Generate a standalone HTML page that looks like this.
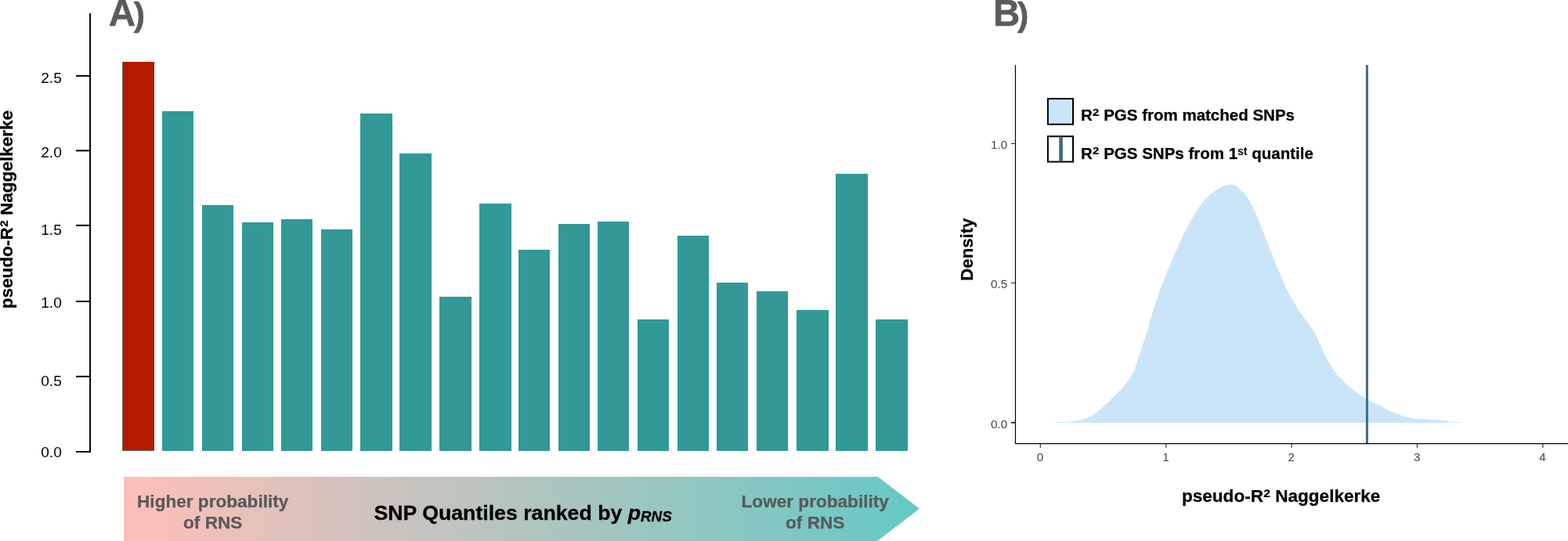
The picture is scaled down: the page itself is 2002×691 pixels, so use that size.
<!DOCTYPE html>
<html lang="en"><head><meta charset="utf-8"><title>Figure: SNP quantiles and PGS density</title>
<style>
html,body{margin:0;padding:0;background:#fff;}
body{width:2002px;height:691px;overflow:hidden;}
svg{display:block;font-family:"Liberation Sans",sans-serif;}
.b{font-weight:bold;}
.lab{font-size:19.2px;fill:#000;}
.glab{font-size:15.3px;fill:#444;}
.pan{font-size:47.5px;font-weight:bold;fill:#5b5b5b;stroke:#5b5b5b;stroke-width:0.5px;}
.ax{font-size:22.55px;font-weight:bold;fill:#000;stroke:#000;stroke-width:0.25px;}
.leg{font-size:20.5px;font-weight:bold;fill:#000;stroke:#000;stroke-width:0.25px;}
.arr{font-size:22.6px;font-weight:bold;fill:#5a5a5a;stroke:#5a5a5a;stroke-width:0.25px;text-anchor:middle;}
</style></head><body>
<svg width="2002" height="691" viewBox="0 0 2002 691">
<defs><linearGradient id="g" gradientUnits="userSpaceOnUse" x1="158" y1="0" x2="1174" y2="0"><stop offset="0" stop-color="#FFBFB9"/><stop offset="1" stop-color="#64C9C4"/></linearGradient></defs>
<rect x="0" y="0" width="2002" height="691" fill="#fff"/>
<g id="panelA">
<text class="pan" x="138.8" y="33">A<tspan x="170.8" font-size="43">)</tspan></text>
<text class="ax" transform="translate(16.3,394.3) rotate(-90)">pseudo-R<tspan font-size="27" dy="2.8" stroke-width="0">²</tspan><tspan dy="-2.8"> Naggelkerke</tspan></text>
<path d="M115.1 17 V577 H97" fill="none" stroke="#000" stroke-width="2"/>
<path d="M97 96.9 H115" stroke="#000" stroke-width="2"/>
<path d="M97 192.4 H115" stroke="#000" stroke-width="2"/>
<path d="M97 287.9 H115" stroke="#000" stroke-width="2"/>
<path d="M97 385.0 H115" stroke="#000" stroke-width="2"/>
<path d="M97 480.9 H115" stroke="#000" stroke-width="2"/>
<text class="lab" x="52.2" y="106.3">2.5</text>
<text class="lab" x="52.2" y="201.0">2.0</text>
<text class="lab" x="52.2" y="299.5">1.5</text>
<text class="lab" x="52.2" y="393.1">1.0</text>
<text class="lab" x="52.2" y="493.4">0.5</text>
<text class="lab" x="52.2" y="583.6">0.0</text>
<rect x="156" y="79" width="40" height="497" fill="#329996"/>
<rect x="156.6" y="79" width="40.4" height="496.4" fill="#B61800"/>
<rect x="207" y="142" width="40" height="434" fill="#329996"/>
<rect x="258" y="262" width="40" height="314" fill="#329996"/>
<rect x="309" y="284" width="40" height="292" fill="#329996"/>
<rect x="359" y="280" width="40" height="296" fill="#329996"/>
<rect x="410" y="293" width="40" height="283" fill="#329996"/>
<rect x="460" y="145" width="41" height="431" fill="#329996"/>
<rect x="510" y="196" width="41" height="380" fill="#329996"/>
<rect x="561" y="379" width="41" height="197" fill="#329996"/>
<rect x="612" y="260" width="41" height="316" fill="#329996"/>
<rect x="662" y="319" width="40" height="257" fill="#329996"/>
<rect x="713" y="286" width="40" height="290" fill="#329996"/>
<rect x="763" y="283" width="40" height="293" fill="#329996"/>
<rect x="814" y="408" width="40" height="168" fill="#329996"/>
<rect x="865" y="301" width="40" height="275" fill="#329996"/>
<rect x="915" y="361" width="40" height="215" fill="#329996"/>
<rect x="966" y="372" width="40" height="204" fill="#329996"/>
<rect x="1017" y="396" width="41" height="180" fill="#329996"/>
<rect x="1067" y="222" width="41" height="354" fill="#329996"/>
<rect x="1118" y="408" width="41" height="168" fill="#329996"/>
<path d="M158 609.1 H1121 L1174 649.8 L1120 691.3 H158 Z" fill="url(#g)"/>
<text class="arr" x="271.7" y="648.2">Higher probability</text>
<text class="arr" x="271.7" y="674.8">of RNS</text>
<text class="arr" x="1040.7" y="648.2">Lower probability</text>
<text class="arr" x="1040.7" y="674.8">of RNS</text>
<text class="b" x="477.4" y="664" font-size="26.7" fill="#000" stroke="#000" stroke-width="0.3">SNP Quantiles ranked by <tspan font-style="italic">p</tspan><tspan font-style="italic" font-size="18.8" dy="2">RNS</tspan></text>
</g>
<g id="panelB">
<text class="pan" x="1268.1" y="33.2">B<tspan x="1299.1" font-size="43">)</tspan></text>
<path d="M1347 539.8 L1347 538.8 L1349 538.8 L1351 538.8 L1353 538.8 L1355 538.8 L1357 538.8 L1359 538.8 L1361 538.8 L1363 538.8 L1365 538.7 L1367 538.5 L1369 538.3 L1371 538.0 L1373 537.7 L1375 537.3 L1377 536.9 L1379 536.4 L1381 535.9 L1383 535.2 L1385 534.5 L1387 533.8 L1389 533.0 L1391 532.2 L1393 531.3 L1395 530.3 L1397 529.1 L1399 527.9 L1401 526.4 L1403 524.7 L1405 522.8 L1407 520.8 L1409 518.9 L1411 517.0 L1413 515.1 L1415 513.3 L1417 511.5 L1419 509.6 L1421 507.6 L1423 505.6 L1425 503.7 L1427 501.7 L1429 499.6 L1431 497.6 L1433 495.5 L1435 493.2 L1437 490.7 L1439 488.0 L1441 485.3 L1443 482.3 L1445 479.0 L1447 475.1 L1449 470.4 L1451 464.8 L1453 458.8 L1455 452.7 L1457 446.7 L1459 440.7 L1461 434.6 L1463 428.3 L1465 421.6 L1467 414.7 L1469 407.7 L1471 400.9 L1473 394.5 L1475 388.5 L1477 382.7 L1479 376.7 L1481 370.8 L1483 365.2 L1485 359.8 L1487 354.8 L1489 350.0 L1491 345.3 L1493 340.7 L1495 336.0 L1497 331.3 L1499 326.6 L1501 321.9 L1503 317.2 L1505 312.5 L1507 308.0 L1509 303.7 L1511 299.6 L1513 295.6 L1515 291.7 L1517 287.9 L1519 284.3 L1521 280.7 L1523 277.2 L1525 273.9 L1527 270.7 L1529 267.6 L1531 264.7 L1533 261.8 L1535 259.1 L1537 256.6 L1539 254.2 L1541 252.1 L1543 250.3 L1545 248.5 L1547 246.9 L1549 245.4 L1551 244.0 L1553 242.7 L1555 241.4 L1557 240.2 L1559 239.1 L1561 238.2 L1563 237.4 L1565 236.9 L1567 236.5 L1569 236.3 L1571 236.2 L1573 236.2 L1575 236.5 L1577 237.1 L1579 238.0 L1581 239.3 L1583 241.0 L1585 243.1 L1587 245.3 L1589 247.7 L1591 250.3 L1593 253.2 L1595 256.3 L1597 259.8 L1599 263.6 L1601 267.9 L1603 272.3 L1605 277.0 L1607 281.8 L1609 286.7 L1611 291.8 L1613 296.9 L1615 302.0 L1617 307.0 L1619 311.9 L1621 316.8 L1623 321.7 L1625 326.8 L1627 331.9 L1629 337.0 L1631 341.9 L1633 346.8 L1635 351.6 L1637 356.4 L1639 361.1 L1641 365.6 L1643 369.9 L1645 373.8 L1647 377.4 L1649 380.7 L1651 384.0 L1653 387.3 L1655 390.8 L1657 394.2 L1659 397.4 L1661 400.3 L1663 402.9 L1665 405.4 L1667 408.0 L1669 410.6 L1671 413.4 L1673 416.4 L1675 419.4 L1677 422.7 L1679 426.3 L1681 430.1 L1683 434.4 L1685 438.8 L1687 443.2 L1689 447.5 L1691 451.7 L1693 455.7 L1695 459.6 L1697 463.3 L1699 466.7 L1701 469.9 L1703 472.9 L1705 475.7 L1707 478.2 L1709 480.6 L1711 482.8 L1713 484.9 L1715 486.9 L1717 488.8 L1719 490.7 L1721 492.4 L1723 494.1 L1725 495.7 L1727 497.2 L1729 498.7 L1731 500.2 L1733 501.7 L1735 503.2 L1737 504.6 L1739 506.0 L1741 507.4 L1743 508.7 L1745 509.9 L1747 511.1 L1749 512.2 L1751 513.3 L1753 514.2 L1755 515.0 L1757 515.8 L1759 516.7 L1761 517.6 L1763 518.6 L1765 519.7 L1767 520.9 L1769 522.1 L1771 523.2 L1773 524.3 L1775 525.2 L1777 526.0 L1779 526.8 L1781 527.5 L1783 528.2 L1785 528.9 L1787 529.7 L1789 530.5 L1791 531.2 L1793 531.9 L1795 532.5 L1797 533.0 L1799 533.4 L1801 533.8 L1803 534.1 L1805 534.3 L1807 534.6 L1809 534.7 L1811 534.9 L1813 535.0 L1815 535.2 L1817 535.3 L1819 535.4 L1821 535.5 L1823 535.6 L1825 535.7 L1827 535.8 L1829 535.9 L1831 536.1 L1833 536.2 L1835 536.3 L1837 536.5 L1839 536.6 L1841 536.8 L1843 537.1 L1845 537.4 L1847 537.8 L1849 538.3 L1851 538.6 L1853 538.8 L1855 538.8 L1857 538.8 L1859 538.8 L1861 538.8 L1863 538.8 L1864 539.8 Z" fill="#CBE5F8" shape-rendering="crispEdges"/>
<path d="M1745.4 83 V566" stroke="#44698A" stroke-width="3"/>
<path d="M1296.5 83 V566.6 H2002" fill="none" stroke="#000" stroke-width="1.2"/>
<path d="M1291 183.4 H1296.5" stroke="#222" stroke-width="1.1"/>
<path d="M1291 361.3 H1296.5" stroke="#222" stroke-width="1.1"/>
<path d="M1291 539.8 H1296.5" stroke="#222" stroke-width="1.8"/>
<text class="glab" x="1286.2" y="190.4" text-anchor="end">1.0</text>
<text class="glab" x="1286.2" y="368.3" text-anchor="end">0.5</text>
<text class="glab" x="1286.2" y="546.8" text-anchor="end">0.0</text>
<path d="M1328.3 566.6 V572" stroke="#333" stroke-width="1.2"/>
<text class="glab" style="font-size:15.2px" x="1328.0" y="588.7" text-anchor="middle">0</text>
<path d="M1488.7 566.6 V572" stroke="#333" stroke-width="1.2"/>
<text class="glab" style="font-size:15.2px" x="1488.4" y="588.7" text-anchor="middle">1</text>
<path d="M1649.1 566.6 V572" stroke="#333" stroke-width="1.2"/>
<text class="glab" style="font-size:15.2px" x="1648.8" y="588.7" text-anchor="middle">2</text>
<path d="M1809.5 566.6 V572" stroke="#333" stroke-width="1.2"/>
<text class="glab" style="font-size:15.2px" x="1809.2" y="588.7" text-anchor="middle">3</text>
<path d="M1969.9 566.6 V572" stroke="#333" stroke-width="1.2"/>
<text class="glab" style="font-size:15.2px" x="1969.6" y="588.7" text-anchor="middle">4</text>
<text class="ax" style="font-size:22.2px" transform="translate(1242,358.7) rotate(-90)">Density</text>
<text class="ax" x="1509" y="641.1">pseudo-R<tspan font-size="27" dy="2.8" stroke-width="0">²</tspan><tspan dy="-2.8"> Naggelkerke</tspan></text>
<rect x="1337.9" y="126.1" width="32.1" height="32.7" fill="#CBE5F8" stroke="#000" stroke-width="2"/>
<rect x="1337.9" y="174.2" width="32.1" height="32.4" fill="#fff" stroke="#000" stroke-width="2"/>
<rect x="1352.2" y="174.8" width="4.7" height="31.4" fill="#44698A"/>
<text class="leg" x="1380" y="154.1">R<tspan font-size="26" dy="2.8" stroke-width="0">²</tspan><tspan dy="-2.8"> PGS from matched SNPs</tspan></text>
<text class="leg" x="1380" y="202.8">R<tspan font-size="26" dy="2.8" stroke-width="0">²</tspan><tspan dy="-2.8"> PGS SNPs from 1</tspan><tspan font-size="14" dy="-4.8" stroke-width="0">st</tspan><tspan dy="4.8"> quantile</tspan></text>
</g>
</svg>
</body></html>
